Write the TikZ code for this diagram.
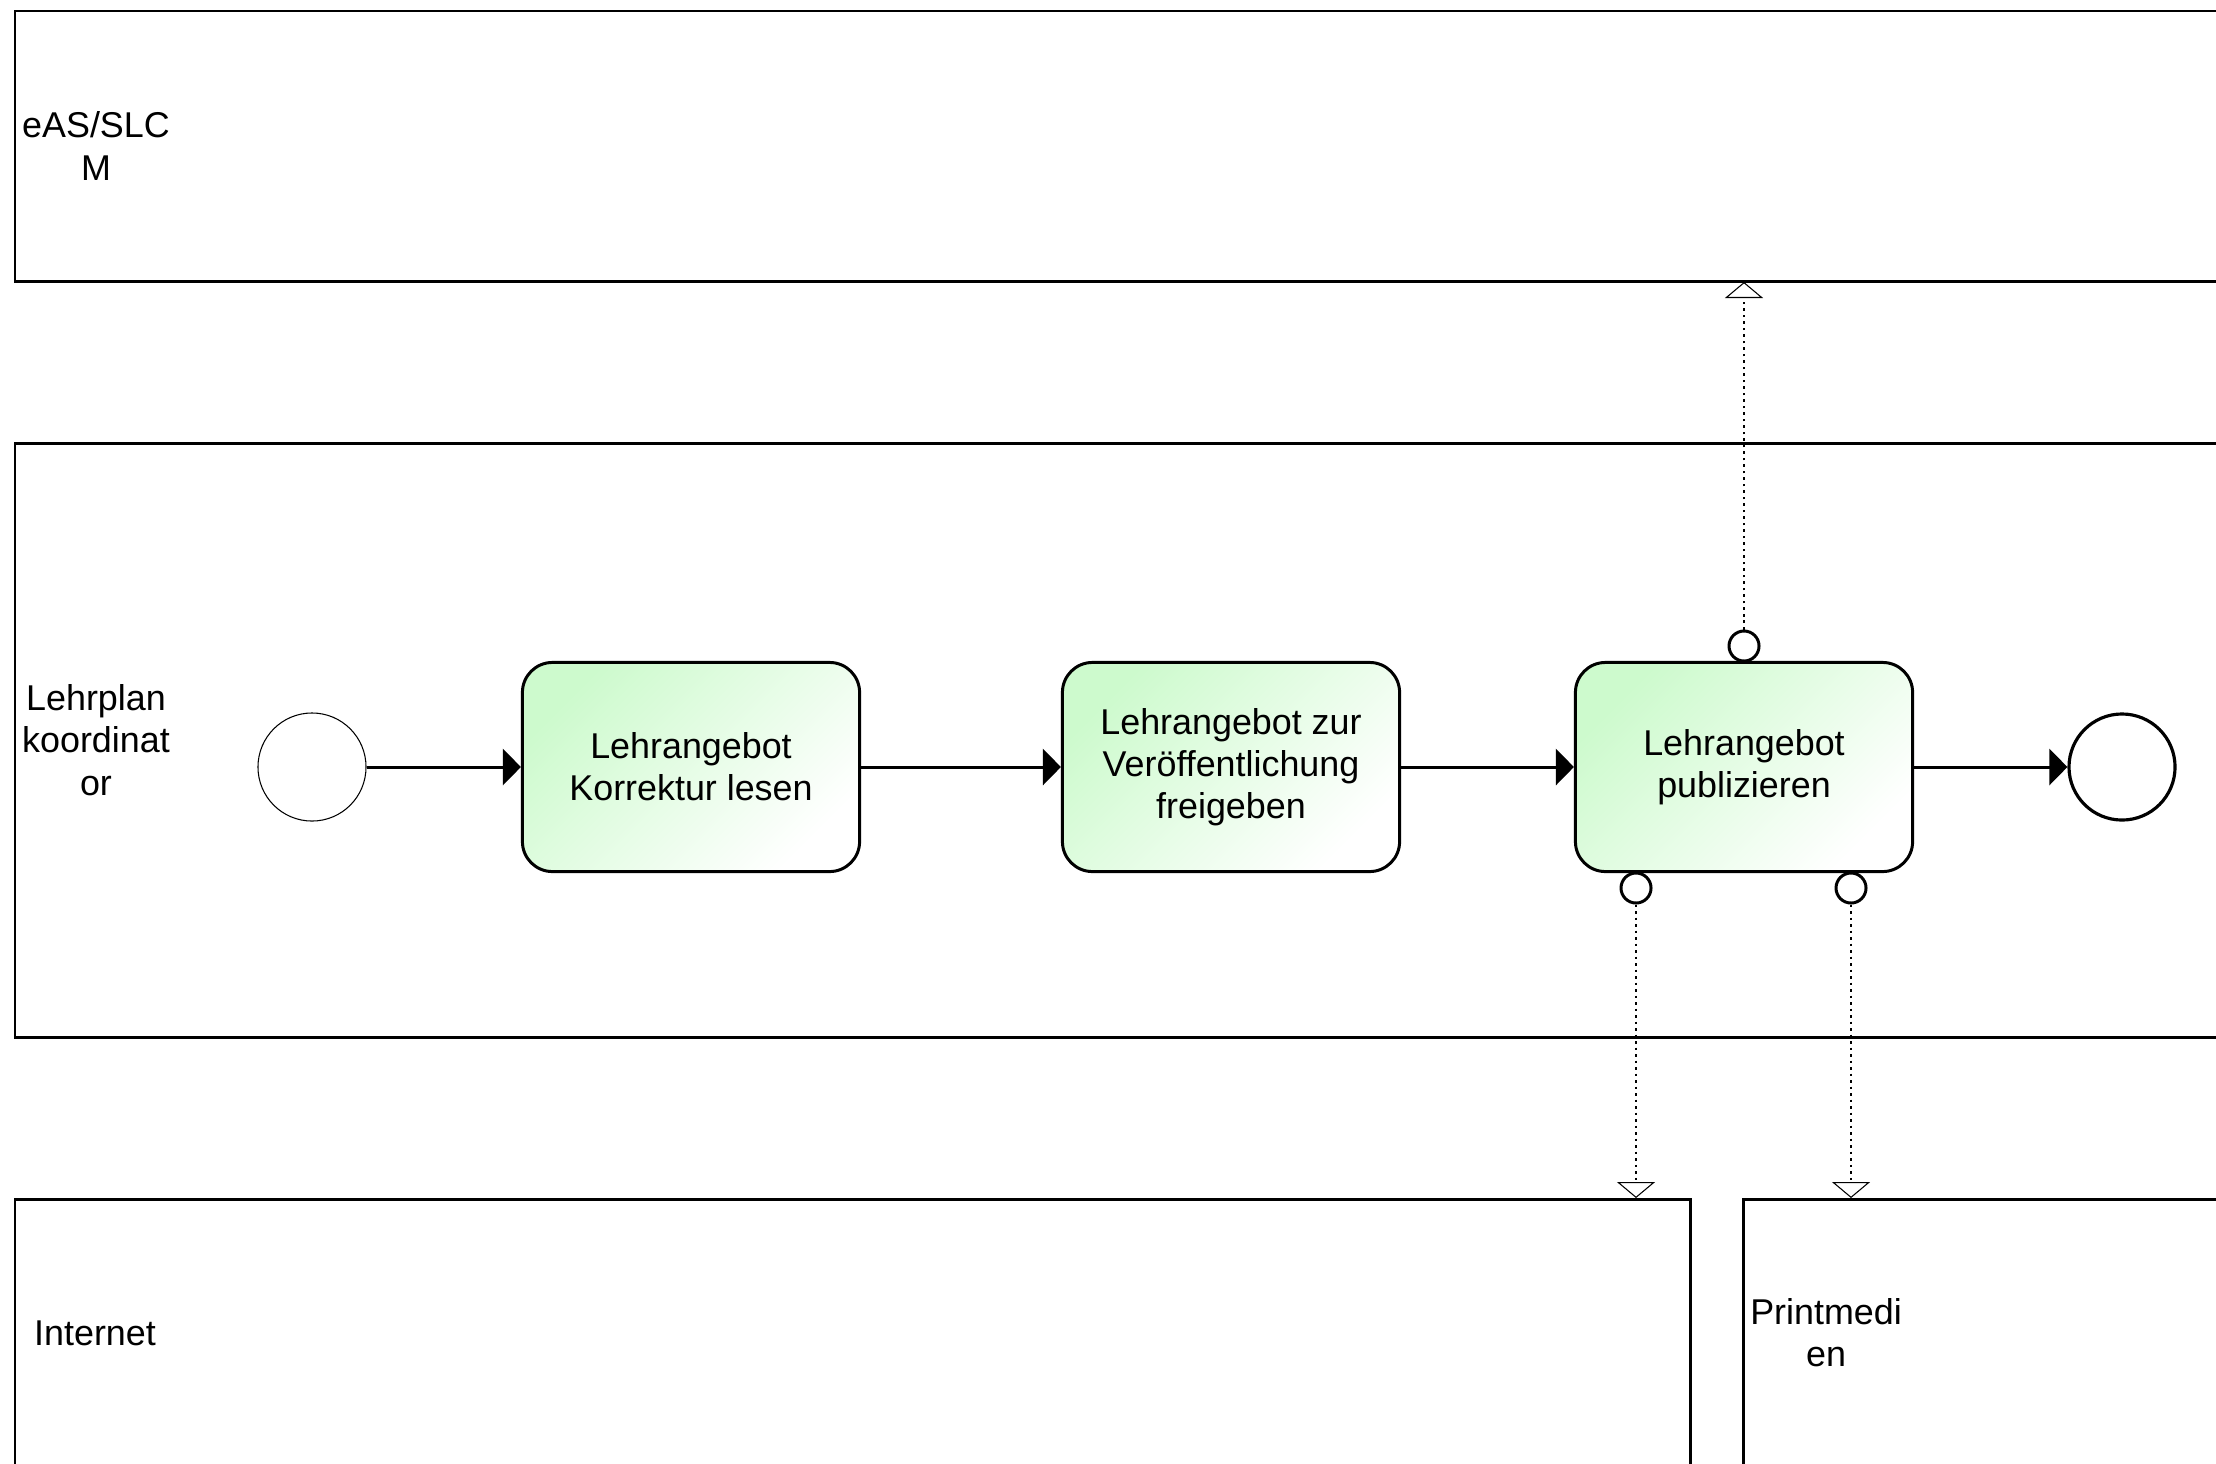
\documentclass[tikz,border=0pt]{standalone}
\usepackage{fontspec}
\setmainfont{Liberation Sans}
\usetikzlibrary{arrows.meta}

\tikzset{
  pool/.style={line width=0.85pt},
  lane/.style={align=center, inner sep=0pt},
  task/.style={draw, line width=0.85pt, rounded corners=0.3cm, minimum width=3.37cm, minimum height=2.09cm, align=center,
    top color={rgb,255:red,205;green,250;blue,205}, bottom color=white, shading angle=45},
  startev/.style={draw, circle, line width=0.3pt, minimum size=1.08cm, inner sep=0pt},
  endev/.style={draw, circle, line width=0.9pt, minimum size=1.06cm, inner sep=0pt},
  port/.style={draw, circle, line width=0.85pt, fill=white, minimum size=0.3cm, inner sep=0pt},
  flow/.style={line width=0.85pt, -{Triangle[length=0.18cm, width=0.36cm]}},
  assoc/.style={line width=0.75pt, dash pattern=on 0.75pt off 1.1pt, -{Triangle[open, length=0.16cm, width=0.38cm, line width=0.3pt]}}
}

\begin{document}
\begin{tikzpicture}[x=0.01cm, y=-0.01cm, font=\fontsize{10.2}{12}\selectfont]
\useasboundingbox (0,0) rectangle (2216,1463);
\clip (0,0) rectangle (2216,1463);
%% pools
    \draw[pool] (15,11) rectangle (2260,281);
    \draw[pool] (15,443) rectangle (2260,1037);
    \draw[pool] (15,1199) rectangle (1690,1490);
    \draw[pool] (1743,1199) rectangle (2260,1490);
%% pool labels
    \node[lane] (easLabel) at (96,146) {eAS/SLC\\M};
    \node[lane] (lpkLabel) at (96,740) {Lehrplan\\koordinat\\or};
    \node[lane] (netLabel) at (95,1333) {Internet};
    \node[lane] (printLabel) at (1826,1333) {Printmedi\\en};
%% events and tasks
    \node[startev] (start) at (312,767) {};
    \node[task] (lesen) at (691,767) {Lehrangebot\\Korrektur lesen};
    \node[task] (freigeben) at (1231,767) {Lehrangebot zur\\Ver\"offentlichung\\freigeben};
    \node[task] (publizieren) at (1744,767) {Lehrangebot\\publizieren};
    \node[endev] (ende) at (2122,767) {};
%% sequence flow
    \draw[flow] (start) -- (lesen);
    \draw[flow] (lesen) -- (freigeben);
    \draw[flow] (freigeben) -- (publizieren);
    \draw[flow] (publizieren) -- (ende);
%% data output ports
    \node[port] (portEas) at (1744,646) {};
    \node[port] (portNet) at (1636,888) {};
    \node[port] (portPrint) at (1851,888) {};
    \coordinate (easIn) at (1744,282);
    \coordinate (netIn) at (1636,1198);
    \coordinate (printIn) at (1851,1198);
    \draw[assoc] (portEas) -- (easIn);
    \draw[assoc] (portNet) -- (netIn);
    \draw[assoc] (portPrint) -- (printIn);
\end{tikzpicture}
\end{document}
